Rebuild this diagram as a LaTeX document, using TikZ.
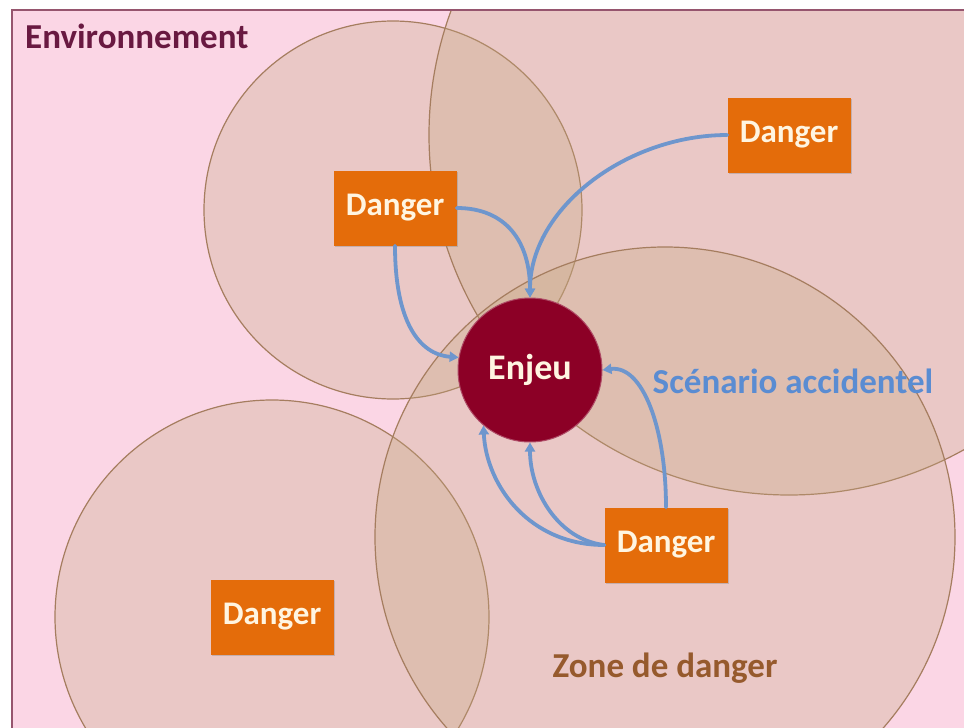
\documentclass[tikz,border=0pt]{standalone}
\usepackage{fontspec}
\setmainfont{Carlito}
\usetikzlibrary{arrows.meta,shadows}
\definecolor{envpink}{RGB}{251,214,229}
\definecolor{envborder}{RGB}{150,85,110}
\definecolor{zonefill}{RGB}{196,168,128}
\definecolor{zoneline}{RGB}{165,125,95}
\definecolor{dangerorange}{RGB}{228,108,10}
\definecolor{enjeured}{RGB}{140,0,38}
\definecolor{linkblue}{RGB}{110,150,205}
\definecolor{scentext}{RGB}{90,140,210}
\definecolor{envtext}{RGB}{105,25,65}
\definecolor{zonetext}{RGB}{150,90,45}
\definecolor{creamtext}{RGB}{255,245,225}
\tikzset{
  zone/.style={draw=zoneline, line width=1.2pt, fill=zonefill, fill opacity=0.3},
  dangerbox/.style={rectangle, fill=dangerorange, minimum width=123pt, minimum height=75pt,
    inner sep=0pt, text=creamtext, font=\fontsize{33}{38}\selectfont\bfseries,
    drop shadow={shadow xshift=1.5pt, shadow yshift=-1.5pt, opacity=0.35}},
  enjeunode/.style={circle, fill=enjeured, draw=enjeured!70!white, line width=1pt,
    minimum size=144pt, inner sep=0pt, text=creamtext, font=\fontsize{36}{40}\selectfont\bfseries},
  link/.style={draw=linkblue, line width=3.8pt, line cap=round,
    -{Triangle[length=9pt,width=10pt]}},
  lbl/.style={font=\fontsize{35}{40}\selectfont\bfseries, inner sep=0pt}
}
\begin{document}
\begin{tikzpicture}[x=1pt,y=-1pt]
\useasboundingbox (0,0) rectangle (964,728);
\clip (0,0) rectangle (964,728);
\fill[white] (0,0) rectangle (964,728);
\fill[envpink] (12,10) rectangle (1000,1000);
% zones de danger
\begin{scope}
\clip (12,10) rectangle (1000,1000);
\draw[zone] (393,210) circle (189);
\draw[zone] (789,135) circle (360);
\draw[zone] (272,617) circle (217);
\draw[zone] (665,537) circle (290);
\end{scope}
\draw[envborder, line width=1.5pt] (12,1000) -- (12,10) -- (1000,10);
% nodes
\node[dangerbox] (d1) at (395,208) {Danger};
\node[dangerbox] (d2) at (789,135) {Danger};
\node[dangerbox] (d3) at (666,545) {Danger};
\node[dangerbox] (d4) at (272,617) {Danger};
\node[enjeunode] (e) at (530,370) {Enjeu};
% links
\draw[link] (d1.east) .. controls +(50,0) and +(0,-55) .. (e.north);
\draw[link] (d2.west) .. controls +(-100,0) and +(0,-90) .. (e.north);
\draw[link] (d1.south) .. controls +(0,75) and +(-40,-3) .. (e.170);
\draw[link] (d3.north) .. controls +(0,-80) and +(40,-5) .. (e.east);
\draw[link] (d3.west) .. controls +(-45,-5) and +(0,50) .. (e.south);
\draw[link] (d3.west) .. controls +(-75,0) and +(3,60) .. (e.-130);
% labels
\node[lbl, text=envtext, anchor=west] (env) at (25,36) {Environnement};
\node[lbl, text=scentext] (scen) at (793,381) {Scénario accidentel};
\node[lbl, text=zonetext] (zone) at (665,668) {Zone de danger};
\end{tikzpicture}
\end{document}
